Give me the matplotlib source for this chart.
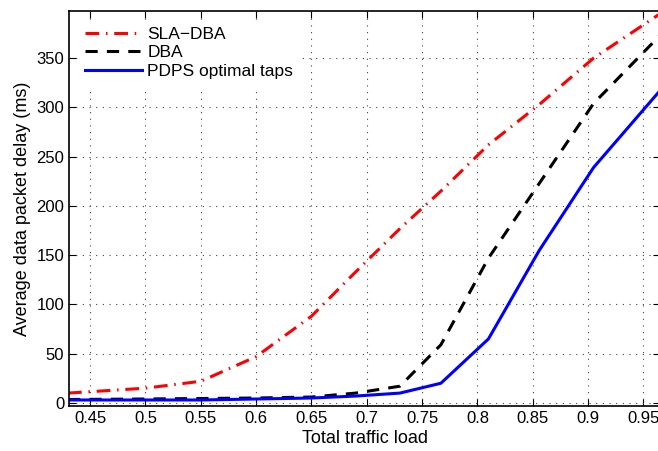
import matplotlib
matplotlib.use('Agg')
import matplotlib.pyplot as plt
import numpy as np

plt.rcParams['font.family'] = ['Liberation Sans', 'DejaVu Sans']

load = [0.43, 0.50, 0.55, 0.60, 0.65, 0.69, 0.73, 0.767, 0.81, 0.856, 0.905, 0.965]
sla_dba = [10, 15, 22, 47, 88, 133, 177, 215, 262, 303, 350, 395]
dba = [3.5, 4, 4.5, 5, 6, 10, 17, 59, 147, 223, 304, 373]
pdps = [3, 3, 3, 4, 5, 7, 10, 20, 65, 155, 239, 317]

fig = plt.figure(figsize=(6.58, 4.51), dpi=100)
ax = fig.add_axes([0.105, 0.1, 0.898, 0.876])

ax.plot(load, sla_dba, color='red', linewidth=2.2, dashes=(4.5, 2.2, 0.5, 2.2), label='SLA\u2212DBA')
ax.plot(load, dba, color='black', linewidth=2.2, dashes=(4, 3), label='DBA')
ax.plot(load, pdps, color='blue', linestyle='-', linewidth=2.2, label='PDPS optimal taps')

ax.set_xlim(0.431, 0.965)
ax.set_ylim(-3, 398)
ax.set_xticks(np.arange(0.45, 0.96, 0.05))
ax.set_xticklabels(['0.45', '0.5', '0.55', '0.6', '0.65', '0.7', '0.75', '0.8', '0.85', '0.9', '0.95'])
ax.set_yticks(np.arange(0, 351, 50))
ax.tick_params(direction='in', top=True, right=True, labelsize=12, length=5)
ax.grid(True, color='#444444', linewidth=0.8, dashes=(1, 5))
for s in ax.spines.values():
    s.set_linewidth(1.2)

ax.set_xlabel('Total traffic load', fontsize=13, labelpad=3)
ax.set_ylabel('Average data packet delay (ms)', fontsize=13, labelpad=4)

leg = ax.legend(loc='upper left', fontsize=12.5, frameon=True, fancybox=False,
                edgecolor='white', handlelength=3.3, handletextpad=0.3,
                labelspacing=0.2, borderaxespad=0.5, borderpad=0.4)
leg.get_frame().set_alpha(1)

fig.savefig('out.png', dpi=100)
